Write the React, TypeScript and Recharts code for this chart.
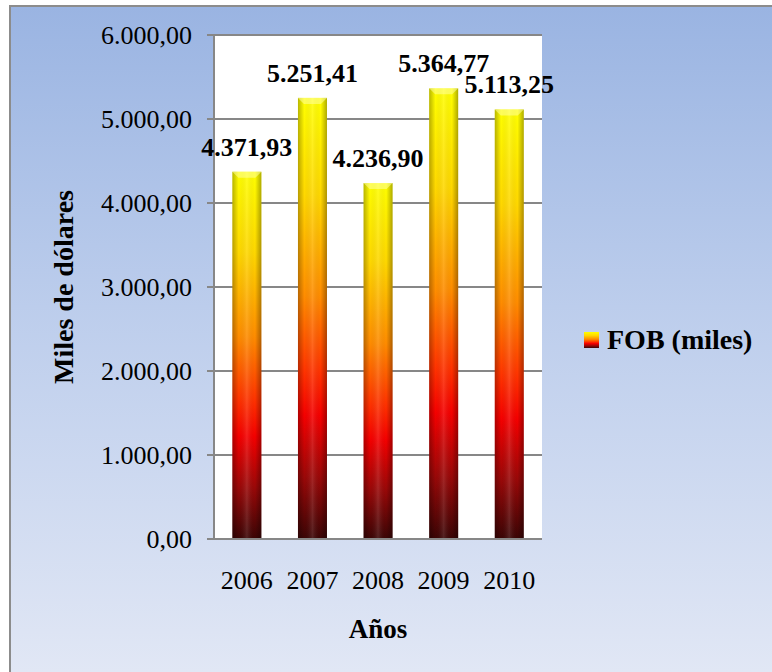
import React from 'react';
import { BarChart, Bar, XAxis, YAxis, CartesianGrid, Legend, LabelList } from 'recharts';

const years = ['2006', '2007', '2008', '2009', '2010'];
const fobMiles = [4371.93, 5251.41, 4236.9, 5364.77, 5113.25];
const yTicks = [0, 1000, 2000, 3000, 4000, 5000, 6000];

const data = years.map((year, i) => ({ year, fob: fobMiles[i] }));

const FONT = '"Liberation Serif", "Times New Roman", serif';
const GRID = '#878787';

// 4371.93 -> "4.371,93"
const formatEs = (v: any) => {
  const [ent, dec] = Number(v).toFixed(2).split('.');
  return ent.replace(/\B(?=(\d{3})+(?!\d))/g, '.') + ',' + dec;
};

const gradientStops = (
  <>
    <stop offset="0%" stopColor="#ffff00" />
    <stop offset="22%" stopColor="#ffd800" />
    <stop offset="45%" stopColor="#ff8c00" />
    <stop offset="62%" stopColor="#ff3300" />
    <stop offset="72%" stopColor="#f50000" />
    <stop offset="86%" stopColor="#9a0808" />
    <stop offset="100%" stopColor="#3a0505" />
  </>
);

// barra con degradado vertical y un poco de relieve en los bordes
const GradientBar = (props: any) => {
  const { x, y, width, height } = props;
  if (!height || height <= 0) return null;
  const b = Math.min(6, width / 4);
  return (
    <g>
      <rect x={x} y={y} width={width} height={height} fill="url(#fobFill)" />
      <rect x={x} y={y} width={width} height={height} fill="url(#fobShade)" />
      <polygon
        points={`${x},${y} ${x + width},${y} ${x + width - b},${y + b} ${x + b},${y + b}`}
        fill="#ffffa0"
        opacity={0.55}
      />
    </g>
  );
};

const renderLegend = () => (
  <div
    style={{
      display: 'flex',
      alignItems: 'center',
      fontFamily: FONT,
      fontWeight: 'bold',
      fontSize: 28,
      color: '#000',
      whiteSpace: 'nowrap',
    }}
  >
    <svg width={15} height={16} style={{ marginRight: 8 }}>
      <defs>
        <linearGradient id="fobLegend" x1="0" y1="0" x2="0" y2="1">
          {gradientStops}
        </linearGradient>
      </defs>
      <rect width={15} height={16} fill="url(#fobLegend)" />
    </svg>
    FOB (miles)
  </div>
);

export default function App() {
  return (
    <div style={{ position: 'fixed', left: 0, top: 0, width: 772, height: 672, overflow: 'hidden' }}>
      <div
        style={{
          position: 'absolute',
          left: 9,
          top: 5,
          right: 0,
          bottom: 0,
          borderLeft: '2px solid #8c8c8c',
          borderTop: '2px solid #8c8c8c',
          background: 'linear-gradient(to bottom, #9ab4e2 0%, #bccdec 45%, #e1e7f5 100%)',
        }}
      />
      <div style={{ position: 'absolute', left: 0, top: 0 }}>
        <BarChart
          width={772}
          height={672}
          data={data}
          margin={{ top: 35, right: 230, bottom: 28, left: 64 }}
          barCategoryGap="28%"
        >
          <defs>
            <linearGradient id="fobFill" x1="0" y1="0" x2="0" y2="1">
              {gradientStops}
            </linearGradient>
            <linearGradient id="fobShade" x1="0" y1="0" x2="1" y2="0">
              <stop offset="0%" stopColor="#000" stopOpacity={0.28} />
              <stop offset="22%" stopColor="#000" stopOpacity={0} />
              <stop offset="50%" stopColor="#fff" stopOpacity={0.12} />
              <stop offset="78%" stopColor="#000" stopOpacity={0} />
              <stop offset="100%" stopColor="#000" stopOpacity={0.32} />
            </linearGradient>
          </defs>
          <CartesianGrid vertical={false} stroke={GRID} strokeWidth={2} fill="#ffffff" />
          <XAxis
            dataKey="year"
            height={105}
            axisLine={{ stroke: GRID, strokeWidth: 2 }}
            tickLine={false}
            tickSize={0}
            tickMargin={32}
            tick={{ fontFamily: FONT, fontSize: 26, fill: '#000' }}
            label={{
              value: 'Años',
              position: 'insideBottom',
              offset: 6,
              style: { fontFamily: FONT, fontSize: 27, fontWeight: 'bold', fill: '#000' },
            }}
          />
          <YAxis
            width={150}
            domain={[0, 6000]}
            ticks={yTicks}
            interval={0}
            tickFormatter={formatEs}
            axisLine={{ stroke: GRID, strokeWidth: 2 }}
            tickLine={{ stroke: GRID, strokeWidth: 2 }}
            tickSize={7}
            tickMargin={15}
            tick={{ fontFamily: FONT, fontSize: 26, fill: '#000' }}
            label={{
              value: 'Miles de dólares',
              angle: -90,
              position: 'insideLeft',
              offset: -1,
              style: { textAnchor: 'middle', fontFamily: FONT, fontSize: 28, fontWeight: 'bold', fill: '#000' },
            }}
          />
          <Legend
            layout="horizontal"
            verticalAlign="middle"
            align="center"
            content={renderLegend}
            wrapperStyle={{ left: 584, top: 324, width: 'auto', height: 'auto' }}
          />
          <Bar dataKey="fob" name="FOB (miles)" shape={<GradientBar />} isAnimationActive={false}>
            <LabelList
              dataKey="fob"
              position="top"
              offset={16}
              formatter={formatEs}
              fill="#000"
              fontFamily={FONT}
              fontSize={26}
              fontWeight="bold"
            />
          </Bar>
        </BarChart>
      </div>
    </div>
  );
}
